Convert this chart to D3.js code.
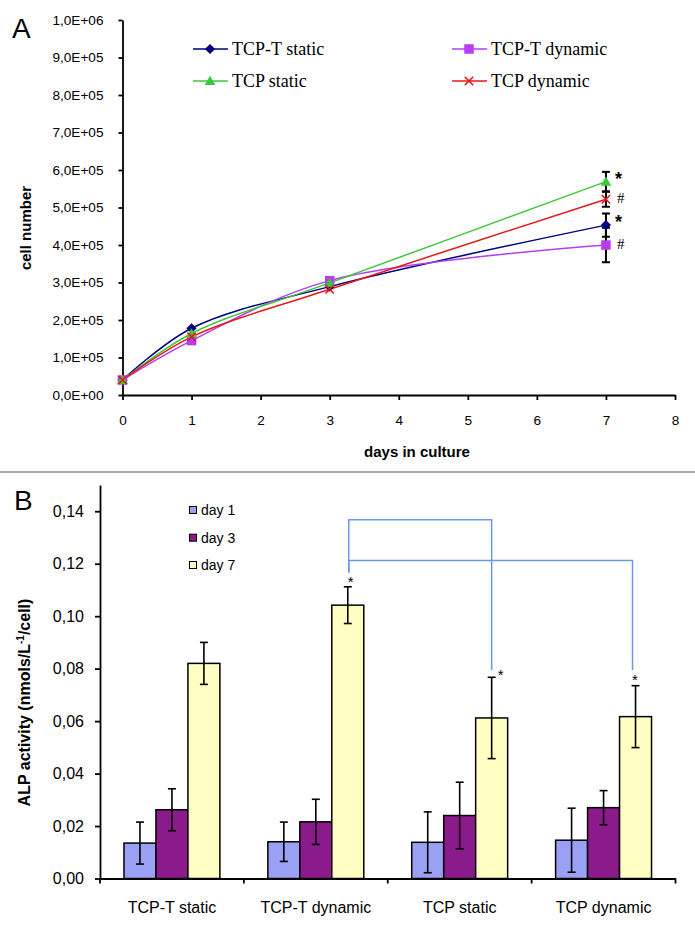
<!DOCTYPE html>
<html>
<head>
<meta charset="utf-8">
<script src="https://cdn.jsdelivr.net/npm/d3@7"></script>
<style>
  body { margin: 0; background: #fff; }
  svg { display: block; }
</style>
</head>
<body>
<div id="fig"></div>
<script>
// ---- panel A data: cell number vs days in culture ----
const days = [0, 1, 3, 7];
const seriesNames = ["TCP-T static", "TCP-T dynamic", "TCP static", "TCP dynamic"];
const tcptStatic = [40000, 178000, 289000, 453000];
const tcptDynamic = [40000, 145000, 305000, 400000];
const tcpStatic = [40000, 164000, 299000, 569000];
const tcpDynamic = [40000, 155000, 282000, 522000];
const tcptStaticErr = [0, 0, 0, 31000];
const tcptDynamicErr = [0, 0, 0, 46000];
const tcpStaticErr = [0, 0, 0, 26000];
const tcpDynamicErr = [0, 0, 0, 20000];
const day7Marks = ["*", "#", "*", "#"];
const dayTicks = [0, 1, 2, 3, 4, 5, 6, 7, 8];
const cellTicks = [0, 1e5, 2e5, 3e5, 4e5, 5e5, 6e5, 7e5, 8e5, 9e5, 1e6];

// ---- panel B data: ALP activity ----
const categories = ["TCP-T static", "TCP-T dynamic", "TCP static", "TCP dynamic"];
const timepoints = ["day 1", "day 3", "day 7"];
const alpDay1 = [0.0135, 0.0140, 0.0138, 0.0146];
const alpDay3 = [0.0262, 0.0216, 0.0240, 0.0270];
const alpDay7 = [0.0820, 0.1042, 0.0612, 0.0617];
const errDay1 = [0.0080, 0.0075, 0.0116, 0.0122];
const errDay3 = [0.0080, 0.0086, 0.0127, 0.0065];
const errDay7 = [0.0080, 0.0070, 0.0155, 0.0118];
const alpTicks = [0, 0.02, 0.04, 0.06, 0.08, 0.10, 0.12, 0.14];
// significance brackets: from TCP-T dynamic day 7 to the other bar
const bracketTo = ["TCP static", "TCP dynamic"];
const bracketLevel = [0.1368, 0.1212];
const bracketStart = 0.1166;
const bracketEnd = [0.0795, 0.0795];
const barMarks = [null, "*", "*", "*"];

const W = 695, H = 932;
const sans = "'Liberation Sans', Arial, sans-serif";
const serif = "'Liberation Serif', 'Times New Roman', serif";

const svg = d3.select("#fig").append("svg")
  .attr("width", W)
  .attr("height", H)
  .style("font-family", sans);

svg.append("rect").attr("width", W).attr("height", H).attr("fill", "#fff");

// ================= PANEL A =================
const xA = d3.scaleLinear().domain([0, 8]).range([122.5, 675]);
const yA = d3.scaleLinear().domain([0, 1e6]).range([395, 20]);

const sci = v => {
  if (v === 0) return "0,0E+00";
  let e = Math.floor(Math.log10(v));
  let m = (v / Math.pow(10, e)).toFixed(1).replace(".", ",");
  return `${m}E+${String(e).padStart(2, "0")}`;
};

let gA = svg.append("g");

gA.append("g")
  .attr("transform", `translate(${xA(0)},0)`)
  .call(d3.axisLeft(yA).tickValues(cellTicks).tickFormat(sci).tickSize(4).tickSizeOuter(0).tickPadding(15))
  .call(g => g.selectAll("text").style("font-size", "13.6px").style("font-family", sans).attr("fill", "#000"))
  .call(g => g.selectAll("line,path").attr("stroke", "#000").attr("stroke-width", 1.8));

gA.append("g")
  .attr("transform", `translate(0,${yA(0)})`)
  .call(d3.axisBottom(xA).tickValues(dayTicks).tickFormat(d3.format("d")).tickSize(5).tickSizeOuter(0).tickPadding(15))
  .call(g => g.selectAll("text").style("font-size", "13.6px").style("font-family", sans).attr("fill", "#000"))
  .call(g => g.selectAll("line,path").attr("stroke", "#000").attr("stroke-width", 1.8));

gA.append("text")
  .attr("x", 417).attr("y", 457)
  .attr("text-anchor", "middle")
  .style("font-size", "15px").style("font-weight", "bold")
  .text("days in culture");

gA.append("text")
  .attr("transform", "translate(31,228) rotate(-90)")
  .attr("text-anchor", "middle")
  .style("font-size", "15px").style("font-weight", "bold")
  .text("cell number");

gA.append("text")
  .attr("x", 12).attr("y", 38)
  .style("font-size", "28px")
  .text("A");

const diamond = d3.symbol().type(d3.symbolSquare).size(52);
const square = d3.symbol().type(d3.symbolSquare).size(90);
const triangle = d3.symbol().type(d3.symbolTriangle).size(50);
const cross = "M-4.2,-4.2L4.2,4.2M-4.2,4.2L4.2,-4.2";

let series = [
  { name: seriesNames[0], values: tcptStatic, err: tcptStaticErr, color: "#000080", marker: "diamond" },
  { name: seriesNames[1], values: tcptDynamic, err: tcptDynamicErr, color: "#b63ef0", marker: "square" },
  { name: seriesNames[2], values: tcpStatic, err: tcpStaticErr, color: "#3cc83c", marker: "triangle" },
  { name: seriesNames[3], values: tcpDynamic, err: tcpDynamicErr, color: "#e81818", marker: "cross" }
];

const drawMarker = (sel, s) => {
  if (s.marker == "diamond") {
    sel.append("path").attr("d", diamond()).attr("transform", "rotate(45)").attr("fill", s.color);
  } else if (s.marker == "square") {
    sel.append("path").attr("d", square()).attr("fill", s.color);
  } else if (s.marker == "triangle") {
    sel.append("path").attr("d", triangle()).attr("transform", "translate(0,1)").attr("fill", s.color);
  } else {
    sel.append("path").attr("d", cross).attr("fill", "none").attr("stroke", s.color).attr("stroke-width", 1.6);
  }
};

let line = d3.line()
  .x((d, i) => xA(days[i]))
  .y(d => yA(d))
  .curve(d3.curveCatmullRom.alpha(0.5));

// error bars (behind markers)
series.forEach(s => {
  s.values.forEach((v, i) => {
    if (!s.err[i]) return;
    let x = xA(days[i]);
    let g = gA.append("g").attr("stroke", "#000").attr("stroke-width", 2);
    g.append("line").attr("x1", x).attr("x2", x).attr("y1", yA(v - s.err[i])).attr("y2", yA(v + s.err[i]));
    g.append("line").attr("x1", x - 4).attr("x2", x + 4).attr("y1", yA(v - s.err[i])).attr("y2", yA(v - s.err[i]));
    g.append("line").attr("x1", x - 4).attr("x2", x + 4).attr("y1", yA(v + s.err[i])).attr("y2", yA(v + s.err[i]));
  });
});

series.forEach(s => {
  gA.append("path")
    .datum(s.values)
    .attr("d", line)
    .attr("fill", "none")
    .attr("stroke", s.color)
    .attr("stroke-width", 1.5);
});

series.forEach(s => {
  s.values.forEach((v, i) => {
    let m = gA.append("g").attr("transform", `translate(${xA(days[i])},${yA(v)})`);
    drawMarker(m, s);
  });
});

// significance marks at day 7
series.forEach((s, k) => {
  let v = s.values[s.values.length - 1];
  let x = xA(days[days.length - 1]) + 9;
  if (day7Marks[k] == "*") {
    gA.append("text").attr("x", x).attr("y", yA(v) + 3)
      .style("font-size", "18px").style("font-weight", "bold").text("*");
  } else {
    gA.append("text").attr("x", x + 2).attr("y", yA(v) + 4)
      .style("font-size", "15px").style("font-family", serif).text("#");
  }
});

// legend A
let legCols = [193, 452], legRows = [49, 81];
series.forEach((s, k) => {
  let lx = legCols[k % 2], ly = legRows[Math.floor(k / 2)];
  let g = gA.append("g").attr("transform", `translate(${lx},${ly})`);
  g.append("line").attr("x1", 0).attr("x2", 35).attr("stroke", s.color).attr("stroke-width", 1.5);
  drawMarker(g.append("g").attr("transform", "translate(17,0)"), s);
  g.append("text").attr("x", 39).attr("y", 6)
    .style("font-family", serif).style("font-size", "18px")
    .text(s.name);
});

// separator
svg.append("line")
  .attr("x1", 0).attr("x2", W).attr("y1", 472).attr("y2", 472)
  .attr("stroke", "#a8a8a8").attr("stroke-width", 2);

// ================= PANEL B =================
const xB = d3.scaleBand().domain(categories).range([100, 675.5]);
const xInner = d3.scaleBand().domain(timepoints).range([0, xB.bandwidth()]).paddingOuter(0.75);
const yB = d3.scaleLinear().domain([0, 0.15]).range([878.5, 485]);
const barColors = d3.scaleOrdinal().domain(timepoints).range(["#9aa0f4", "#8b1a8b", "#ffffc4"]);

let gB = svg.append("g");

let barData = [];
[alpDay1, alpDay3, alpDay7].forEach((vals, t) => {
  let errs = [errDay1, errDay3, errDay7][t];
  vals.forEach((v, c) => barData.push({ cat: categories[c], tp: timepoints[t], value: v, err: errs[c] }));
});

gB.selectAll(".bar")
  .data(barData)
  .enter()
  .append("rect")
  .attr("class", "bar")
  .attr("x", d => xB(d.cat) + xInner(d.tp))
  .attr("width", xInner.bandwidth())
  .attr("y", d => yB(d.value))
  .attr("height", d => yB(0) - yB(d.value))
  .attr("fill", d => barColors(d.tp))
  .attr("stroke", "#000")
  .attr("stroke-width", 1.5);

let eb = gB.selectAll(".err")
  .data(barData)
  .enter()
  .append("g")
  .attr("class", "err")
  .attr("stroke", "#000")
  .attr("stroke-width", 1.6);
const cx = d => xB(d.cat) + xInner(d.tp) + xInner.bandwidth() / 2;
eb.append("line").attr("x1", cx).attr("x2", cx).attr("y1", d => yB(d.value - d.err)).attr("y2", d => yB(d.value + d.err));
eb.append("line").attr("x1", d => cx(d) - 4).attr("x2", d => cx(d) + 4).attr("y1", d => yB(d.value - d.err)).attr("y2", d => yB(d.value - d.err));
eb.append("line").attr("x1", d => cx(d) - 4).attr("x2", d => cx(d) + 4).attr("y1", d => yB(d.value + d.err)).attr("y2", d => yB(d.value + d.err));

// axes B
gB.append("g")
  .attr("transform", `translate(${xB.range()[0]},0)`)
  .call(d3.axisLeft(yB).tickValues(alpTicks).tickFormat(d => d.toFixed(2).replace(".", ",")).tickSize(5).tickSizeOuter(0).tickPadding(11))
  .call(g => g.selectAll("text").style("font-size", "16px").style("font-family", sans).attr("fill", "#000"))
  .call(g => g.selectAll("line,path").attr("stroke", "#000").attr("stroke-width", 1.8));

gB.append("g")
  .attr("transform", `translate(0,${yB(0)})`)
  .call(d3.axisBottom(xB).tickSize(0).tickSizeOuter(0).tickPadding(23))
  .call(g => g.selectAll("text").style("font-size", "16px").style("font-family", sans).attr("fill", "#000"))
  .call(g => g.selectAll("path").attr("stroke", "#000").attr("stroke-width", 1.8));

let edges = categories.map(c => xB(c)).concat([xB.range()[1]]);
gB.selectAll(".edge")
  .data(edges)
  .enter()
  .append("line")
  .attr("x1", d => d).attr("x2", d => d)
  .attr("y1", yB(0)).attr("y2", yB(0) + 5)
  .attr("stroke", "#000").attr("stroke-width", 1.8);

gB.append("text")
  .attr("transform", `translate(30,${(590 + 815) / 2}) rotate(-90)`)
  .attr("text-anchor", "middle")
  .style("font-size", "16px").style("font-weight", "bold")
  .call(t => {
    t.append("tspan").text("ALP activity (nmols/L");
    t.append("tspan").attr("dy", -6).style("font-size", "10px").text("-1");
    t.append("tspan").attr("dy", 6).text("/cell)");
  });

gB.append("text")
  .attr("x", 14).attr("y", 510)
  .style("font-size", "28px")
  .text("B");

// legend B
let legB = [510, 537.7, 565];
timepoints.forEach((tp, i) => {
  gB.append("rect")
    .attr("x", 189.5).attr("y", legB[i] - 3.5)
    .attr("width", 7).attr("height", 7)
    .attr("fill", barColors(tp)).attr("stroke", "#000").attr("stroke-width", 1);
  gB.append("text")
    .attr("x", 201).attr("y", legB[i] + 5)
    .style("font-size", "14px")
    .text(tp);
});

// brackets
let fromX = xB("TCP-T dynamic") + xInner("day 7") + xInner.bandwidth() / 2;
bracketTo.forEach((c, i) => {
  let toX = xB(c) + xInner("day 7") + xInner.bandwidth() / 2 - (i == 1 ? 3 : 0);
  gB.append("path")
    .attr("d", `M${fromX + 1},${yB(bracketStart)}V${yB(bracketLevel[i])}H${toX}V${yB(bracketEnd[i])}`)
    .attr("fill", "none")
    .attr("stroke", "#6a9ae6")
    .attr("stroke-width", 1.5);
});

// asterisks above day 7 bars
let starShift = [[0, 0], [3, 0], [6, 3], [-0.5, -1]];
categories.forEach((c, i) => {
  if (!barMarks[i]) return;
  let x = xB(c) + xInner("day 7") + xInner.bandwidth() / 2;
  let top = alpDay7[i] + errDay7[i];
  gB.append("text")
    .attr("x", x + starShift[i][0]).attr("y", yB(top) + starShift[i][1])
    .attr("text-anchor", i == 2 ? "start" : "middle")
    .style("font-size", "15px")
    .text(barMarks[i]);
});
</script>
</body>
</html>
